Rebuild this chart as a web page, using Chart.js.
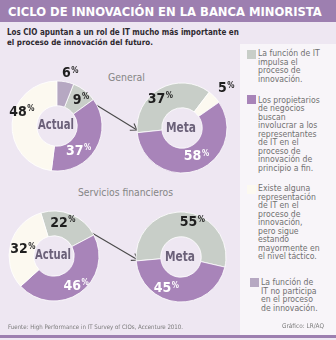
<!DOCTYPE html>
<html>
<head>
<meta charset="utf-8">
<script src="https://cdn.jsdelivr.net/npm/chart.js@4.4.1/dist/chart.umd.min.js"></script>
<style>
body {
    margin: 0;
    width: 336px;
    height: 340px;
    background: #eee7f2;
    position: relative;
    overflow: hidden;
    font-family: "Liberation Sans Narrow", "DejaVu Sans Condensed", "Open Sans", sans-serif;
}
.abs { position: absolute; white-space: nowrap; }
#titleBar { left: 0; top: 0; width: 336px; height: 22px; background: #9d7fb0; }
#title { left: 8px; top: 1px; color: #fff; font-weight: bold; font-size: 17px; line-height: 21px; }
.sub { left: 7px; color: #2e2a30; font-weight: bold; font-size: 11px; line-height: 10px; }
#legendBox { left: 240px; top: 44px; width: 96px; height: 291px; background: #f8f5f9; }
.item { left: 258px; color: #707070; font-size: 8.6px; line-height: 8.5px; }
.sw { width: 9px; height: 9px; }
.group { color: #858585; font-size: 12px; line-height: 12px; }
.note { color: #7a7a7a; font-size: 7.5px; line-height: 8px; }
#bottomLine { left: 0; top: 335px; width: 336px; height: 3px; background: #9d7fb0; }
canvas { position: absolute; }
</style>
</head>
<body>
<div class="abs" id="titleBar"></div>
<span class="abs fit" id="title" data-w="314">CICLO DE INNOVACIÓN EN LA BANCA MINORISTA</span>
<span class="abs sub fit" style="top:28px" data-w="232">Los CIO apuntan a un rol de IT mucho más importante en</span>
<span class="abs sub fit" style="top:38px" data-w="146">el proceso de innovación del futuro.</span>

<div class="abs" id="legendBox"></div>
<div id="legend"></div>

<span class="abs group fit" id="g1" data-w="37"></span>
<span class="abs group fit" id="g2" data-w="95"></span>

<svg class="abs" width="336" height="340" style="left:0;top:0">
    <defs>
        <marker id="head" markerUnits="userSpaceOnUse" markerWidth="8" markerHeight="10" refX="7" refY="5" orient="auto">
            <path d="M1,1 L7,5 L1,9" fill="none" stroke="#4a4a4a" stroke-width="1.1"/>
        </marker>
    </defs>
    <line x1="93" y1="103" x2="137" y2="130" stroke="#4a4a4a" stroke-width="1.1" marker-end="url(#head)"/>
    <line x1="92" y1="233" x2="138" y2="260" stroke="#4a4a4a" stroke-width="1.1" marker-end="url(#head)"/>
</svg>

<canvas id="c1" width="150" height="150" style="left:-18px;top:51px"></canvas>
<canvas id="c2" width="150" height="150" style="left:107px;top:53px"></canvas>
<canvas id="c3" width="150" height="150" style="left:-21px;top:181px"></canvas>
<canvas id="c4" width="150" height="150" style="left:106px;top:182px"></canvas>

<span class="abs note fit" style="left:8px;top:323px" data-w="175">Fuente: High Performance in IT Survey of CIOs, Accenture 2010.</span>
<span class="abs note fit" style="left:282px;top:322px" data-w="42">Gráfico: LR/AQ</span>
<div class="abs" id="bottomLine"></div>

<script>
// categories (legend), in the order gray, purple, cream, dark
const categories = [
    'La función de IT|impulsa el|proceso de|innovación.',
    'Los propietarios|de negocios|buscan|involucrar a los|representantes|de IT en el|proceso de|innovación de|principio a fin.',
    'Existe alguna|representación|de IT en el|proceso de|innovación,|pero sigue|estando|mayormente en|el nivel táctico.',
    'La función de|IT no participa|en el proceso|de innovación.'
];
const sliceColors = ['#c8cec8', '#a884b9', '#fcf9f0', '#b6a8c2'];
const labelColors = ['#1f1f1f', '#ffffff', '#1f1f1f', '#1f1f1f'];

// percent values per category
const actualGeneral = [9, 37, 48, 6];
const metaGeneral = [37, 58, 5, 0];
const actualFinanciero = [22, 46, 32, 0];
const metaFinanciero = [55, 45, 0, 0];

const centerNames = ['Actual', 'Meta'];
const centerWidths = [36, 30];
const groupNames = ['General', 'Servicios financieros'];

// legend layout
const legendTops = [49, 95.5, 184, 278];
const swatchPos = [[247, 50], [247, 95], [247, 185], [250, 278]];
const textLeft = [258, 258, 258, 261];

const legendDiv = document.getElementById('legend');
categories.forEach((text, i) => {
    const sw = document.createElement('div');
    sw.className = 'abs sw';
    sw.style.left = swatchPos[i][0] + 'px';
    sw.style.top = swatchPos[i][1] + 'px';
    sw.style.background = sliceColors[i];
    legendDiv.appendChild(sw);

    const t = document.createElement('div');
    t.className = 'abs item';
    t.style.left = textLeft[i] + 'px';
    t.style.top = legendTops[i] + 'px';
    t.innerHTML = text.split('|').join('<br>');
    legendDiv.appendChild(t);
});

document.getElementById('g1').textContent = groupNames[0];
document.getElementById('g1').style.cssText += 'left:108px;top:71px';
document.getElementById('g2').textContent = groupNames[1];
document.getElementById('g2').style.cssText += 'left:78px;top:186px';

document.querySelectorAll('.fit').forEach(el => {
    const target = Number(el.dataset.w);
    const size = parseFloat(getComputedStyle(el).fontSize);
    const w = el.getBoundingClientRect().width;
    el.style.fontSize = (size * target / w).toFixed(2) + 'px';
});

const pctLabels = {
    id: 'pctLabels',
    afterDatasetsDraw(chart, args, opts) {
        const ctx = chart.ctx;
        const meta = chart.getDatasetMeta(0);
        const ds = chart.data.datasets[0];
        const family = '"Liberation Sans Narrow", "DejaVu Sans Condensed", sans-serif';
        ctx.save();
        ctx.textBaseline = 'middle';
        meta.data.forEach((arc, i) => {
            const cat = opts.order[i];
            const p = opts.place[cat];
            const a = (arc.startAngle + arc.endAngle) / 2 + p[0] * Math.PI / 180;
            const x = arc.x + Math.cos(a) * p[1];
            const y = arc.y + Math.sin(a) * p[1];
            const num = String(ds.data[i]);
            ctx.font = 'bold 14px ' + family;
            const wn = ctx.measureText(num).width;
            ctx.font = 'bold 8px ' + family;
            const wp = ctx.measureText('%').width;
            const x0 = x - (wn + wp) / 2;
            ctx.fillStyle = labelColors[cat];
            ctx.textAlign = 'left';
            ctx.font = 'bold 14px ' + family;
            ctx.fillText(num, x0, y);
            ctx.font = 'bold 8px ' + family;
            ctx.fillText('%', x0 + wn + 0.5, y - 3);
        });
        // center label, stretched a little vertically like the condensed original
        const c = meta.data[0];
        ctx.font = 'bold 16px ' + family;
        const size = 16 * opts.centerWidth / ctx.measureText(opts.center).width;
        ctx.font = 'bold ' + size.toFixed(2) + 'px ' + family;
        ctx.fillStyle = '#6b6179';
        ctx.textAlign = 'center';
        ctx.translate(c.x - 1, c.y);
        ctx.scale(1, 1.18);
        ctx.fillText(opts.center, 0, 0);
        ctx.restore();
    }
};

const donuts = [
    { id: 'c1', values: actualGeneral, center: 0, order: [0, 1, 2, 3], rotation: 21.6,
      place: { 0: [5, 35], 1: [19, 33], 2: [18, 38], 3: [3, 54] } },
    { id: 'c2', values: metaGeneral, center: 1, order: [0, 2, 1], rotation: -96,
      place: { 0: [-8, 36], 2: [2, 59], 1: [-6, 32] } },
    { id: 'c3', values: actualFinanciero, center: 0, order: [0, 1, 2], rotation: -17,
      place: { 0: [-8, 34], 1: [-1, 37], 2: [-4, 32] } },
    { id: 'c4', values: metaFinanciero, center: 1, order: [0, 1], rotation: -95,
      place: { 0: [14, 36], 1: [21, 35] } },
];

donuts.forEach(d => {
    new Chart(document.getElementById(d.id), {
        type: 'doughnut',
        data: {
            labels: d.order.map(i => categories[i].split('|').join(' ')),
            datasets: [{
                data: d.order.map(i => d.values[i]),
                backgroundColor: d.order.map(i => sliceColors[i]),
                borderColor: '#ffffff',
                borderWidth: 0.8,
            }]
        },
        options: {
            responsive: false,
            animation: false,
            rotation: d.rotation,
            radius: 45,
            cutout: '45%',
            layout: { padding: 0 },
            plugins: {
                legend: { display: false },
                tooltip: { enabled: false },
                pctLabels: {
                    order: d.order,
                    place: d.place,
                    center: centerNames[d.center],
                    centerWidth: centerWidths[d.center],
                },
            }
        },
        plugins: [pctLabels]
    });
});
</script>
</body>
</html>
